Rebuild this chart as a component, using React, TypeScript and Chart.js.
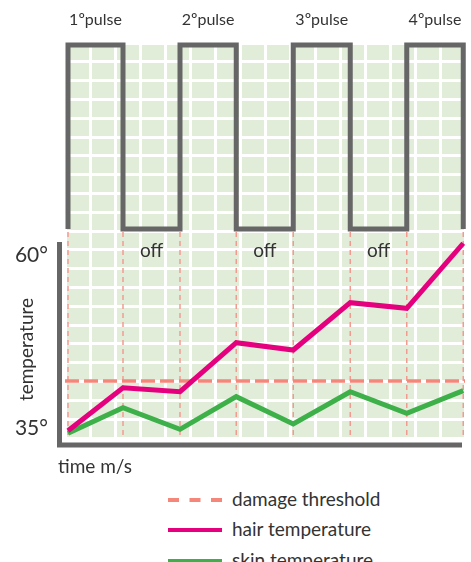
import React, { useEffect, useRef } from 'react';
import { Chart, registerables } from 'chart.js';

Chart.register(...registerables);

// ---- data ----
const edgeTimes = [0.12, 2.32, 4.6, 6.85, 9.13, 11.41, 13.67, 15.93];
const pulseStates = [1, 0, 1, 0, 1, 0, 1, 0];
const hairTemps = [34.61, 40.84, 40.26, 47.36, 46.3, 53.16, 52.35, 61.77];
const skinTemps = [34.23, 37.94, 34.81, 39.54, 35.58, 40.26, 37.13, 40.41];
const thresholdTemp = 41.81;
const markerTopTemp = 63.41;
const tempTicks = [35, 60];
const pulseLabels = ['1ºpulse', '2ºpulse', '3ºpulse', '4ºpulse'];
const offLabel = 'off';
const seriesLabels = ['damage threshold', 'hair temperature', 'skin temperature'];
const xTitle = 'time m/s';
const yTitle = 'temperature';

// ---- styles ----
const GREEN = '#e1edd9';
const AXIS = '#666666';
const TEXT = '#333333';
const THRESH = '#f5867a';
const MARKER = '#f39a90';
const HAIR = '#e5007d';
const SKIN = '#3eb049';
const FONT = 'Lato';

const Y_MIN = 33.551;
const Y_MAX = 90.797;

const pulseData = edgeTimes.flatMap((t, i) => [
  { x: t, y: i === 0 ? 0 : pulseStates[i - 1] },
  { x: t, y: pulseStates[i] },
]);
const markerData = edgeTimes.flatMap((t) => [
  { x: t, y: markerTopTemp },
  { x: t, y: Y_MIN },
  { x: t, y: null as any },
]);
const pulseMids = pulseLabels.map((_, i) => (edgeTimes[2 * i] + edgeTimes[2 * i + 1]) / 2);

const decor = {
  id: 'decor',
  beforeDraw(chart: any) {
    const { ctx, chartArea: a } = chart;
    ctx.save();
    ctx.fillStyle = GREEN;
    ctx.fillRect(a.left, a.top, a.right - a.left, a.bottom - a.top);
    ctx.restore();
  },
  afterDraw(chart: any) {
    const { ctx, chartArea: a, scales } = chart;
    const xs = scales.x;
    ctx.save();
    ctx.strokeStyle = AXIS;
    ctx.lineWidth = 5;
    ctx.lineJoin = 'miter';
    ctx.lineCap = 'butt';
    ctx.beginPath();
    ctx.moveTo(a.left - 5.5, a.top + 199);
    ctx.lineTo(a.left - 5.5, a.bottom + 7);
    ctx.lineTo(a.right - 3, a.bottom + 7);
    ctx.stroke();

    ctx.fillStyle = TEXT;
    ctx.font = `19px ${FONT}`;
    ctx.textAlign = 'center';
    ctx.textBaseline = 'alphabetic';
    for (let i = 0; i < 3; i++) {
      const m = (edgeTimes[2 * i + 1] + edgeTimes[2 * i + 2]) / 2;
      ctx.fillText(offLabel, xs.getPixelForValue(m), a.top + 214);
    }
    ctx.textAlign = 'left';
    ctx.fillText(xTitle, a.left - 7, a.bottom + 35);

    ctx.translate(33, (a.top + 199 + a.bottom + 7) / 2 + 6);
    ctx.rotate(-Math.PI / 2);
    ctx.textAlign = 'center';
    ctx.fillText(yTitle, 0, 0);
    ctx.restore();
  },
};

export default function App() {
  const ref = useRef<HTMLCanvasElement>(null);

  useEffect(() => {
    const canvas = ref.current;
    if (!canvas) return;
    const chart = new Chart(canvas, {
      type: 'line',
      data: {
        datasets: [
          {
            label: seriesLabels[1],
            data: edgeTimes.map((t, i) => ({ x: t, y: hairTemps[i] })),
            borderColor: HAIR,
            borderWidth: 5,
            pointRadius: 0,
            yAxisID: 'y',
            order: 0,
          },
          {
            label: seriesLabels[2],
            data: edgeTimes.map((t, i) => ({ x: t, y: skinTemps[i] })),
            borderColor: SKIN,
            borderWidth: 5,
            pointRadius: 0,
            yAxisID: 'y',
            order: 1,
          },
          {
            label: seriesLabels[0],
            data: [
              { x: 0, y: thresholdTemp },
              { x: 16, y: thresholdTemp },
            ],
            borderColor: THRESH,
            borderWidth: 3.5,
            borderDash: [14, 5],
            pointRadius: 0,
            yAxisID: 'y',
            order: 2,
          },
          {
            label: 'markers',
            data: markerData,
            borderColor: MARKER,
            borderWidth: 1.5,
            borderDash: [5, 4],
            pointRadius: 0,
            spanGaps: false,
            yAxisID: 'y',
            order: 3,
          },
          {
            label: 'pulse',
            data: pulseData,
            borderColor: AXIS,
            borderWidth: 5,
            borderJoinStyle: 'miter',
            borderCapStyle: 'butt',
            pointRadius: 0,
            yAxisID: 'p',
            clip: false as any,
            order: 4,
          },
        ] as any,
      },
      options: {
        animation: false,
        responsive: false,
        events: [],
        layout: { padding: { left: 0, right: 6, top: 0, bottom: 0 } },
        plugins: { legend: { display: false }, tooltip: { enabled: false } },
        scales: {
          x: {
            type: 'linear',
            position: 'bottom',
            min: 0,
            max: 16,
            ticks: { display: false, stepSize: 1, maxTicksLimit: 100 },
            grid: { color: '#ffffff', lineWidth: 3, drawTicks: false },
            border: { display: false },
            afterFit: (s: any) => {
              s.height = 42;
            },
          },
          x2: {
            type: 'linear',
            position: 'top',
            min: 0,
            max: 16,
            grid: { display: false, drawTicks: true, tickLength: 14 },
            border: { display: false },
            ticks: {
              autoSkip: false,
              maxRotation: 0,
              padding: 0,
              color: TEXT,
              font: { family: FONT, size: 16 },
              callback: (_v: any, i: number) => pulseLabels[i],
            },
            afterBuildTicks: (s: any) => {
              s.ticks = pulseMids.map((v) => ({ value: v }));
            },
            afterFit: (s: any) => {
              s.height = 43;
            },
          },
          y: {
            type: 'linear',
            position: 'left',
            min: Y_MIN,
            max: Y_MAX,
            grid: { display: false, drawTicks: false },
            border: { display: false },
            ticks: {
              padding: 17,
              color: TEXT,
              font: { family: FONT, size: 21 },
              callback: (v: any) => `${v}°`,
            },
            afterBuildTicks: (s: any) => {
              s.ticks = tempTicks.map((v) => ({ value: v }));
            },
            afterFit: (s: any) => {
              s.width = 65;
            },
          },
          g: {
            type: 'linear',
            position: 'left',
            min: 0,
            max: 21,
            ticks: { display: false, stepSize: 1, maxTicksLimit: 100 },
            grid: { color: '#ffffff', lineWidth: 3, drawTicks: false },
            border: { display: false },
            afterFit: (s: any) => {
              s.width = 0;
            },
          },
          p: {
            type: 'linear',
            position: 'right',
            display: false,
            min: -1.1359,
            max: 1.0109,
          },
        } as any,
      },
      plugins: [decor],
    });
    return () => chart.destroy();
  }, []);

  const legendSwatches = [
    { color: THRESH, dash: '11 10.5' },
    { color: HAIR, dash: undefined },
    { color: SKIN, dash: undefined },
  ];

  return (
    <div
      style={{
        position: 'fixed',
        left: 0,
        top: 0,
        width: 471,
        height: 562,
        overflow: 'hidden',
        background: '#ffffff',
        fontFamily: FONT,
      }}
    >
      <canvas
        ref={ref}
        width={471}
        height={480}
        style={{ position: 'absolute', left: 0, top: 0, width: 471, height: 480 }}
      />
      {seriesLabels.map((label, i) => {
        const cy = 499.5 + i * 30.5;
        const sw = legendSwatches[i];
        return (
          <React.Fragment key={label}>
            <svg
              style={{ position: 'absolute', left: 168, top: cy - 4 }}
              width={54}
              height={8}
            >
              <line
                x1={0}
                y1={4}
                x2={54}
                y2={4}
                stroke={sw.color}
                strokeWidth={4}
                strokeDasharray={sw.dash}
              />
            </svg>
            <div
              style={{
                position: 'absolute',
                left: 232,
                top: cy - 13,
                fontSize: 19,
                color: TEXT,
                whiteSpace: 'nowrap',
              }}
            >
              {label}
            </div>
          </React.Fragment>
        );
      })}
    </div>
  );
}
